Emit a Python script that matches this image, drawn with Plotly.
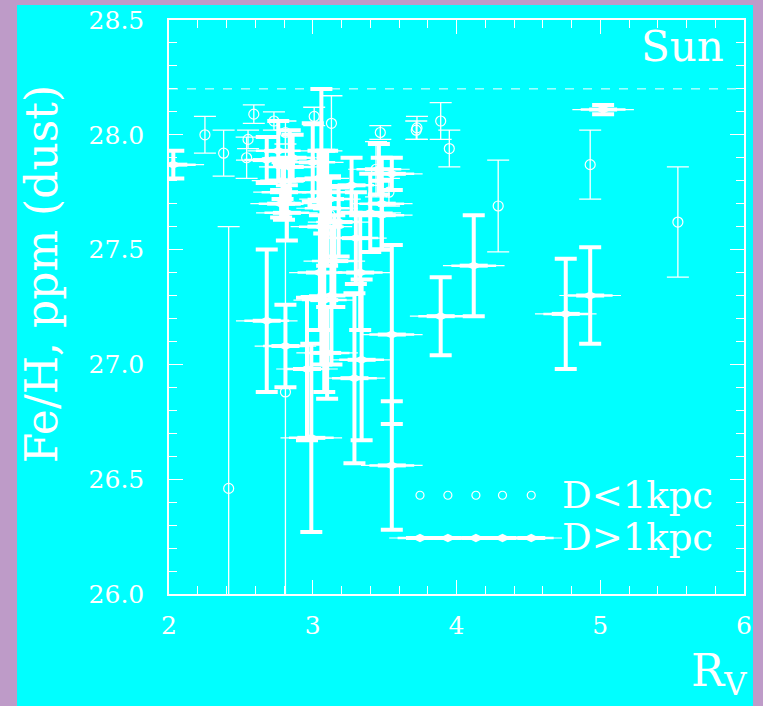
import plotly.graph_objects as go

# ---- data ----
# D < 1 kpc : open circles, thin error bars
near_x = [2.25, 2.38, 2.415, 2.55, 2.54, 2.59, 2.73, 2.81, 2.81, 3.01, 3.13, 3.12,
          3.47, 3.44, 3.53, 3.725, 3.72, 3.89, 3.95, 4.29, 4.93, 5.54]
near_y = [28.00, 27.92, 26.46, 27.98, 27.90, 28.09, 28.06, 28.01, 26.88, 28.08, 28.05, 27.65,
          28.01, 27.85, 27.75, 28.03, 28.02, 28.06, 27.94, 27.69, 27.87, 27.62]
near_err = [0.08, 0.10, 1.14, 0.04, 0.09, 0.04, 0.04, 0.05, 1.14, 0.04, 0.12, 0.10,
            0.03, 0.12, 0.06, 0.05, 0.04, 0.08, 0.08, 0.20, 0.15, 0.24]

# D > 1 kpc : filled spiky markers, thick error bars
far_x = [2.03, 2.68, 2.68, 2.76, 2.79, 2.80, 2.82, 2.84, 2.81, 2.78, 2.86,
         2.96, 2.99, 3.06, 3.00, 3.04, 3.08, 3.10, 3.12, 3.05, 3.08, 3.13, 3.15, 3.10, 3.18,
         3.27, 3.30, 3.33, 3.29, 3.34, 3.40, 3.46, 3.48, 3.55, 3.55, 3.55, 3.48,
         3.89, 4.12, 4.76, 4.93, 5.02]
far_y = [27.87, 27.89, 27.19, 27.93, 27.80, 27.75, 27.66, 27.86, 27.08, 27.70, 27.90,
         26.98, 26.68, 27.60, 27.88, 27.81, 27.75, 27.68, 27.72, 27.40, 27.28, 27.30, 27.45, 27.05, 27.62,
         27.78, 27.55, 27.40, 26.94, 27.02, 27.66, 27.85, 27.65, 27.83, 27.13, 26.56, 27.70,
         27.21, 27.43, 27.22, 27.30, 28.11]
far_err = [0.06, 0.10, 0.31, 0.13, 0.08, 0.12, 0.12, 0.16, 0.18, 0.06, 0.10,
           0.31, 0.41, 0.60, 0.17, 0.12, 0.18, 0.25, 0.10, 0.25, 0.40, 0.30, 0.20, 0.20, 0.15,
           0.12, 0.20, 0.25, 0.37, 0.35, 0.17, 0.11, 0.15, 0.07, 0.39, 0.28, 0.20,
           0.17, 0.22, 0.24, 0.21, 0.02]

sun_fe = 28.2

legend_x = [3.746, 3.94, 4.135, 4.32, 4.52]
legend_near_y = [26.43] * 5
legend_far_y = [26.244] * 5
legend_text_x = 4.72
legend_labels = ["D&lt;1kpc", "D&gt;1kpc"]

x_ticks = [2, 3, 4, 5, 6]
y_ticks = [26.0, 26.5, 27.0, 27.5, 28.0, 28.5]

FONT = "DejaVu Serif"
WHITE = "white"

fig = go.Figure()

def add_far(xs, ys, errs=None):
    # tapered horizontal spike built from stacked horizontal strokes + wide diamond core
    for size, width in [(44, 1.2), (32, 2.5), (20, 4)]:
        fig.add_trace(go.Scatter(
            x=xs, y=ys, mode="markers", showlegend=False, hoverinfo="skip",
            marker=dict(symbol="line-ew", size=size, line=dict(width=width, color=WHITE)),
        ))
    kw = {}
    if errs is not None:
        kw["error_y"] = dict(type="data", array=errs, thickness=4, width=11, color=WHITE)
    fig.add_trace(go.Scatter(
        x=xs, y=ys, mode="markers", showlegend=False, hoverinfo="skip",
        marker=dict(symbol="diamond-wide", size=12, color=WHITE, line=dict(width=0)),
        **kw,
    ))

add_far(far_x, far_y, far_err)

fig.add_trace(go.Scatter(
    x=near_x, y=near_y, mode="markers", showlegend=False, hoverinfo="skip",
    marker=dict(symbol="circle-open", size=10, color=WHITE, line=dict(width=1.2, color=WHITE)),
    error_y=dict(type="data", array=near_err, thickness=1.3, width=11, color=WHITE),
))

# legend samples
fig.add_trace(go.Scatter(
    x=legend_x, y=legend_near_y, mode="markers", showlegend=False, hoverinfo="skip",
    marker=dict(symbol="circle-open", size=8, color=WHITE, line=dict(width=1.2, color=WHITE)),
))
add_far(legend_x, legend_far_y)

fig.add_annotation(x=legend_text_x, y=legend_near_y[0], text=legend_labels[0], showarrow=False,
                   xanchor="left", yanchor="middle", font=dict(family=FONT, size=37, color=WHITE))
fig.add_annotation(x=legend_text_x, y=legend_far_y[0], text=legend_labels[1], showarrow=False,
                   xanchor="left", yanchor="middle", font=dict(family=FONT, size=37, color=WHITE))

# Sun reference line
fig.add_shape(type="line", xref="paper", x0=0, x1=1, yref="y", y0=sun_fe, y1=sun_fe,
              line=dict(color=WHITE, width=1, dash="dash"))

# cyan panel
fig.add_shape(type="rect", xref="paper", yref="paper", x0=-0.2643, x1=1.0157, y0=-0.3, y1=1.0261,
              fillcolor="#00FFFF", line=dict(width=0), layer="below")

fig.add_annotation(xref="paper", yref="paper", x=0.969, y=0.953, text="Sun", showarrow=False,
                   xanchor="right", yanchor="middle", font=dict(family=FONT, size=42, color=WHITE))
fig.add_annotation(xref="paper", yref="paper", x=-0.2226, y=0.557, text="Fe/H, ppm (dust)",
                   showarrow=False, textangle=-90, xanchor="center", yanchor="middle",
                   font=dict(family=FONT, size=44, color=WHITE))
fig.add_annotation(xref="paper", yref="paper", x=1.009, y=-0.192, text="R<sub>V</sub>",
                   showarrow=False, xanchor="right", yanchor="bottom",
                   font=dict(family=FONT, size=44, color=WHITE))

axis_common = dict(showgrid=False, zeroline=False, showline=True, linecolor=WHITE, linewidth=1.5,
                   mirror="allticks", ticks="inside", tickcolor=WHITE, tickwidth=1.2,
                   automargin=False,
                   tickfont=dict(family=FONT, size=25, color=WHITE))

fig.update_xaxes(range=[2, 6], tickvals=x_ticks, ticklen=14, ticklabelstandoff=8,
                 minor=dict(dtick=0.2, ticks="inside", ticklen=8, tickcolor=WHITE, tickwidth=1.2),
                 **axis_common)
fig.update_yaxes(range=[26, 28.5], tickvals=y_ticks, tickformat=".1f", ticklen=14,
                 ticklabelstandoff=18,
                 minor=dict(dtick=0.1, ticks="inside", ticklen=8, tickcolor=WHITE, tickwidth=1.2),
                 **axis_common)

fig.update_layout(
    width=763, height=706,
    margin=dict(l=169, r=19, t=20, b=112, autoexpand=False),
    paper_bgcolor="#BE9BC8", plot_bgcolor="#00FFFF",
    showlegend=False,
)

fig.write_html("out.html")
